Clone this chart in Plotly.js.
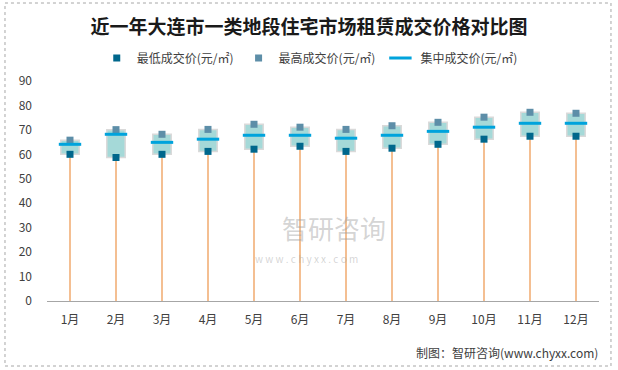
<!DOCTYPE html>
<html><head><meta charset="utf-8">
<script src="https://cdn.plot.ly/plotly-3.0.1.min.js"></script>
<style>html,body{margin:0;padding:0;background:#fff}#chart{width:618px;height:370px}</style>
</head><body><div id="chart"></div>
<script>
const months = ['1月','2月','3月','4月','5月','6月','7月','8月','9月','10月','11月','12月'];
const minPrice = [60, 58.7, 60, 61.2, 62.1, 63.3, 61.2, 62.5, 64.1, 66.2, 67.4, 67.4];
const maxPrice = [65.8, 70.1, 68.2, 70.2, 72.3, 71.1, 70.2, 71.7, 73.1, 75.2, 77.2, 76.8];
const midPrice = [64.1, 68.2, 64.9, 66.2, 67.8, 67.8, 66.6, 67.8, 69.4, 71.1, 72.7, 72.7];
const seriesNames = ['最低成交价(元/㎡)', '最高成交价(元/㎡)', '集中成交价(元/㎡)'];

const font = '"Noto Sans CJK SC", "Microsoft YaHei", sans-serif';

// orange stems from 0 to the minimum
const stemX = [], stemY = [];
months.forEach((m, i) => { stemX.push(m, m, null); stemY.push(0, minPrice[i], null); });

const traces = [
  {type:'scatter', mode:'lines', x:stemX, y:stemY, line:{color:'#f0aa6e', width:1.5},
   showlegend:false, hoverinfo:'skip'},
  {type:'bar', x:months, base:minPrice, y:maxPrice.map((v,i)=>v-minPrice[i]), width:0.4,
   marker:{color:'#a5d9d8', line:{color:'#d9d9d9', width:1.5}}, showlegend:false, hoverinfo:'skip'},
  {type:'scatter', mode:'markers', name:seriesNames[0], x:months, y:minPrice,
   marker:{symbol:'square', size:7, color:'#00678c'}},
  {type:'scatter', mode:'markers', name:seriesNames[1], x:months, y:maxPrice,
   marker:{symbol:'square', size:7, color:'#5d8ea8'}},
  {type:'scatter', mode:'markers', name:seriesNames[2], x:months, y:midPrice,
   marker:{symbol:'line-ew', size:16, line:{color:'#00a3dc', width:3}}}
];

const layout = {
  width:618, height:370,
  margin:{l:47, r:19, t:81, b:69},
  paper_bgcolor:'#fff', plot_bgcolor:'#fff',
  font:{family:font, size:12, color:'#595959'},
  title:{text:'近一年大连市一类地段住宅市场租赁成交价格对比图', x:0.5, xanchor:'center', y:0.927, yanchor:'middle',
    font:{family:font, size:19, color:'#1a1a1a', weight:'bold'}},
  showlegend:true,
  legend:{orientation:'h', x:0.476, xanchor:'center', y:1.105, yanchor:'middle',
    font:{family:font, size:12, color:'#404040'}, itemwidth:20, tracegroupgap:0, bgcolor:'rgba(0,0,0,0)'},
  barmode:'overlay',
  xaxis:{type:'category', range:[-0.5, 11.5], automargin:false, showgrid:false, zeroline:false, showline:true, linecolor:'#a6a6a6', linewidth:1,
    ticks:'', ticklabelstandoff:8, tickfont:{family:font, size:12, color:'#404040'}},
  yaxis:{range:[0,90], dtick:10, automargin:false, showgrid:false, zeroline:false, showline:false, ticks:'',
    ticklabelstandoff:14, tickfont:{family:font, size:12, color:'#404040'}},
  shapes:[
    {type:'rect', xref:'paper', yref:'paper', x0:-0.0761, x1:1.0217, y0:-0.2955, y1:1.3545,
     line:{color:'#a6a6a6', width:1, dash:'dot'}, layer:'below'}
  ],
  annotations:[
    {xref:'paper', yref:'paper', x:1.0018, y:-0.232, xanchor:'right', yanchor:'middle', showarrow:false,
     text:'制图：智研咨询(www.chyxx.com)', font:{family:font, size:12, color:'#404040'}},
    {xref:'paper', yref:'paper', x:0.52, y:0.335, xanchor:'center', yanchor:'middle', showarrow:false,
     text:'智研咨询', font:{family:font, size:26, color:'rgba(160,160,160,0.45)'}},
    {xref:'paper', yref:'paper', x:0.47, y:0.195, xanchor:'center', yanchor:'middle', showarrow:false,
     text:'w w w . c h y x x . c o m', font:{family:font, size:10, color:'rgba(160,160,160,0.45)'}}
  ]
};

Plotly.newPlot('chart', traces, layout, {displayModeBar:false, staticPlot:true});
</script></body></html>
